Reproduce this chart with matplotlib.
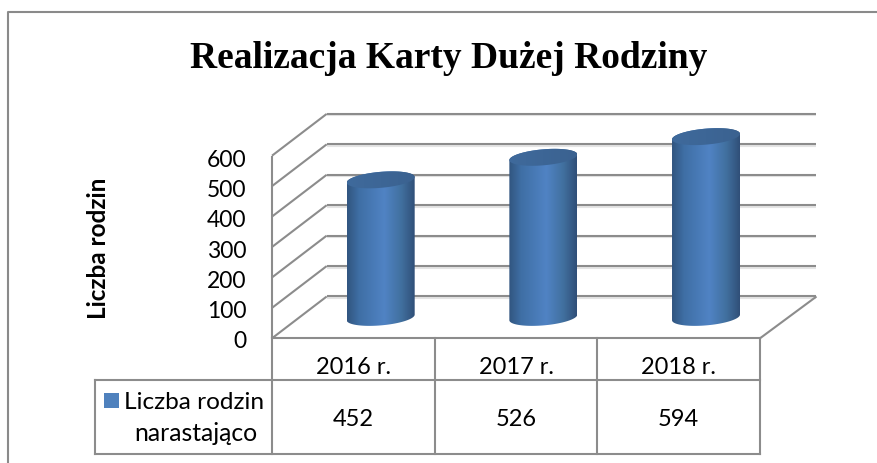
import numpy as np
import matplotlib
matplotlib.use("Agg")
import matplotlib.pyplot as plt
from matplotlib.colors import LinearSegmentedColormap
from matplotlib.patches import PathPatch, Rectangle
from matplotlib.path import Path
from matplotlib.lines import Line2D

title = "Realizacja Karty Dużej Rodziny"
y_label = "Liczba rodzin"
series_name = ["Liczba rodzin", "narastająco"]
categories = ["2016 r.", "2017 r.", "2018 r."]
values = [452, 526, 594]
y_ticks = [0, 100, 200, 300, 400, 500, 600]

W, H = 877, 464
GRID = "#8c8c8c"
PX_X = 162.67   # pixels per category
PX_Y = 0.3043   # pixels per unit
DEPTH_X = 54.7 / PX_X
DEPTH_Y = 41.8 / PX_Y
BAR_W = 68 / PX_X

fig = plt.figure(figsize=(W / 100, H / 100), dpi=100)

# the axes is the front plane of the 3d box
left, right, bottom, top = 272, 760, 339.3, 156.7
ax = fig.add_axes([left / W, 1 - bottom / H, (right - left) / W, (bottom - top) / H])
ax.axis("off")


def line(xs, ys, color=GRID, lw=1.5, z=2):
    ax.add_line(Line2D(xs, ys, color=color, lw=lw, clip_on=False, zorder=z, solid_capstyle="butt"))


# walls and floor
back_end = 3 + 56.5 / PX_X
for v in y_ticks:
    line([DEPTH_X, back_end], [v + DEPTH_Y - 5, v + DEPTH_Y - 5], color="#e4e4e4", z=1)
    line([DEPTH_X, back_end], [v + DEPTH_Y, v + DEPTH_Y])
    line([0, DEPTH_X], [v, v + DEPTH_Y])
line([0, 0], [0, 600])
line([3, back_end], [0, DEPTH_Y])

# cylinders
cmap = LinearSegmentedColormap.from_list(
    "cyl", [(0, "#31557f"), (0.18, "#3f6fa5"), (0.55, "#5083c4"), (0.8, "#41709f"), (1, "#304f78")])
top_cmap = LinearSegmentedColormap.from_list("cyltop", ["#3f6a9c", "#3b6290"])
half_w = BAR_W / 2
ell_b = 8 / PX_Y
ell_s = 2.8 / PX_Y
grad = np.linspace(0, 1, 256).reshape(1, -1)
t = np.linspace(0, 2 * np.pi, 121)
t_low = np.linspace(np.pi, 2 * np.pi, 60)
t_up = np.linspace(0, np.pi, 60)
for i, val in enumerate(values):
    cx = i + 0.5 + DEPTH_X / 2
    y0 = DEPTH_Y / 2
    y1 = val + DEPTH_Y / 2
    # outline: bottom half of lower ellipse, then top half of upper one
    xs = np.r_[cx + half_w * np.cos(t_low), cx + half_w * np.cos(t_up)]
    ys = np.r_[y0 + ell_b * np.sin(t_low) + ell_s * np.cos(t_low),
               y1 + ell_b * np.sin(t_up) + ell_s * np.cos(t_up)]
    body = PathPatch(Path(np.c_[xs, ys]), fc="none", ec="none", transform=ax.transData)
    ax.add_patch(body)
    im = ax.imshow(grad, cmap=cmap, aspect="auto", zorder=3,
                   extent=[cx - half_w, cx + half_w, -100, 900])
    im.set_clip_box(fig.bbox)
    im.set_clip_path(body)
    tx = cx + half_w * np.cos(t)
    ty = y1 + ell_b * np.sin(t) + ell_s * np.cos(t)
    lid = PathPatch(Path(np.c_[tx, ty]), fc="none", ec="none", transform=ax.transData)
    ax.add_patch(lid)
    im2 = ax.imshow(grad, cmap=top_cmap, aspect="auto", zorder=4,
                    extent=[cx - half_w, cx + half_w, -100, 900])
    im2.set_clip_box(fig.bbox)
    im2.set_clip_path(lid)
ax.set_xlim(0, 3)
ax.set_ylim(0, 600)

# full-figure overlay for text, table and frame, in pixels
ov = fig.add_axes([0, 0, 1, 1], zorder=5)
ov.set_xlim(0, W)
ov.set_ylim(H, 0)
ov.axis("off")
ov.patch.set_alpha(0)


def seg(xs, ys, lw=1.5):
    ov.plot(xs, ys, color=GRID, lw=lw, solid_capstyle="projecting")


ov.plot([7.5, 7.5, 877], [464, 13, 13], color="#8a8a8a", lw=1.5)
seg([272, 760], [339.3, 339.3])
seg([95, 760], [380.7, 380.7])
seg([95, 760], [455, 455])
seg([95, 95], [380.7, 455])
for x in [272, 434.7, 597.3, 760]:
    seg([x, x], [339.3, 455])

ov.text(449, 68, title, family="Liberation Serif", weight="bold", fontsize=27, ha="center", va="baseline")
ov.text(98, 248, y_label, family="Lato", weight="bold", fontsize=17.5, rotation=90, ha="center", va="center")

for v in y_ticks:
    ov.text(246.5, 348.5 - v * 0.3033, str(v), family="Lato", fontsize=16.5, ha="right", va="baseline")
for i, cat in enumerate(categories):
    ov.text(272 + (i + 0.5) * PX_X, 374, cat, family="Lato", fontsize=17, ha="center", va="baseline")
    ov.text(272 + (i + 0.5) * PX_X, 426, str(values[i]), family="Lato", fontsize=17, ha="center", va="baseline")

ov.add_patch(Rectangle((104, 393.5), 15, 15.5, fc="#4f81bd", ec="none"))
ov.text(264, 409, series_name[0], family="Lato", fontsize=17.6, ha="right", va="baseline")
ov.text(257, 441, series_name[1], family="Lato", fontsize=17.8, ha="right", va="baseline")

fig.savefig("out.png", dpi=100, facecolor="white")
